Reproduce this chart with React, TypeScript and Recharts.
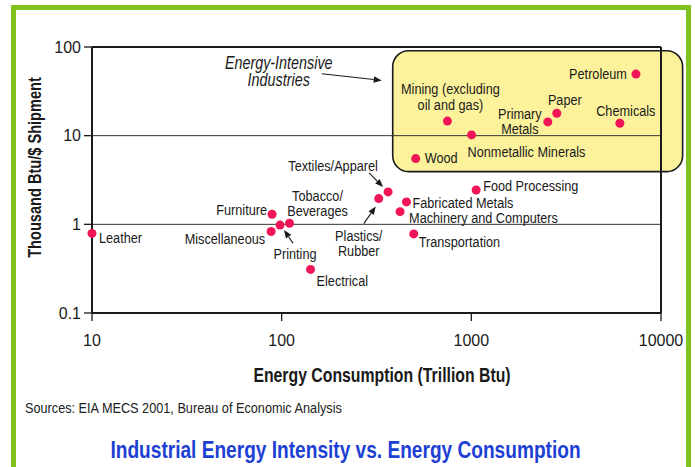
import React from 'react';
import { ScatterChart, Scatter, XAxis, YAxis, ReferenceLine, ReferenceArea } from 'recharts';

const industries = [
  'Leather', 'Furniture', 'Miscellaneous', 'Printing', 'Tobacco/Beverages', 'Electrical',
  'Textiles/Apparel', 'Plastics/Rubber', 'Fabricated Metals', 'Machinery and Computers',
  'Transportation', 'Food Processing', 'Wood', 'Mining (excluding oil and gas)',
  'Nonmetallic Minerals', 'Primary Metals', 'Paper', 'Chemicals', 'Petroleum',
];
const consumption = [10, 89, 88, 98, 110, 142, 364, 325, 455, 421, 497, 1060, 509, 748, 1003, 2531, 2823, 6067, 7378];
const intensity = [0.79, 1.3, 0.83, 0.98, 1.03, 0.31, 2.32, 1.95, 1.79, 1.39, 0.78, 2.44, 5.51, 14.6, 10.2, 14.3, 17.9, 13.8, 49.5];
const xTicks = [10, 100, 1000, 10000];
const yTicks = [0.1, 1, 10, 100];
const intensiveBoxX = [385, 13000];
const intensiveBoxY = [3.93, 90.8];
const annotationLines = ['Energy-Intensive', 'Industries'];
const xTitle = 'Energy Consumption (Trillion Btu)';
const yTitle = 'Thousand Btu/$ Shipment';
const sourceText = 'Sources: EIA MECS 2001, Bureau of Economic Analysis';
const chartTitle = 'Industrial Energy Intensity vs. Energy Consumption';

const data = industries.map((name, i) => ({ name, x: consumption[i], y: intensity[i] }));

const REG = "'Liberation Sans', Arimo, Arial, Helvetica, sans-serif";
const NARROW_SCALE = 0.82;
const DOT = '#ef1556';
const INK = '#1a1a1a';

type Anchor = 'start' | 'middle' | 'end';

const NText = (p: {
  x: number; y: number; anchor?: Anchor; size: number; weight?: string; italic?: boolean;
  fill?: string; rotate?: number; children: React.ReactNode; dy?: string;
}) => (
  <text
    transform={`translate(${p.x},${p.y})${p.rotate ? ` rotate(${p.rotate})` : ''} scale(${NARROW_SCALE},1)`}
    x={0} y={0} dy={p.dy} textAnchor={p.anchor || 'start'} fontFamily={REG} fontSize={p.size}
    fontWeight={p.weight || 'normal'} fontStyle={p.italic ? 'italic' : 'normal'} fill={p.fill || INK}
  >{p.children}</text>
);

type Layout = { lines: string[]; dx: number; dy: number; anchor: Anchor; lh?: number; arrow?: [number, number, number, number] };
const labelLayout: Record<string, Layout> = {
  'Leather': { lines: ['Leather'], dx: 7, dy: 4, anchor: 'start' },
  'Furniture': { lines: ['Furniture'], dx: -5, dy: -5, anchor: 'end' },
  'Miscellaneous': { lines: ['Miscellaneous'], dx: -6, dy: 7, anchor: 'end' },
  'Printing': { lines: ['Printing'], dx: 15, dy: 28, anchor: 'middle', arrow: [13, 18, 4, 5] },
  'Tobacco/Beverages': { lines: ['Tobacco/', 'Beverages'], dx: 28, dy: -28, anchor: 'middle' },
  'Electrical': { lines: ['Electrical'], dx: 6, dy: 11, anchor: 'start' },
  'Textiles/Apparel': { lines: ['Textiles/Apparel'], dx: -55, dy: -26, anchor: 'middle', arrow: [-19, -19, -5, -5] },
  'Plastics/Rubber': { lines: ['Plastics/', 'Rubber'], dx: -20, dy: 37, anchor: 'middle', arrow: [-15, 25, -3, 8] },
  'Fabricated Metals': { lines: ['Fabricated Metals'], dx: 6, dy: 1, anchor: 'start' },
  'Machinery and Computers': { lines: ['Machinery and Computers'], dx: 9, dy: 6, anchor: 'start' },
  'Transportation': { lines: ['Transportation'], dx: 5, dy: 8, anchor: 'start' },
  'Food Processing': { lines: ['Food Processing'], dx: 7, dy: -4, anchor: 'start' },
  'Wood': { lines: ['Wood'], dx: 9, dy: -1, anchor: 'start' },
  'Mining (excluding oil and gas)': { lines: ['Mining (excluding', 'oil and gas)'], dx: 3, dy: -33, anchor: 'middle', lh: 16 },
  'Nonmetallic Minerals': { lines: ['Nonmetallic Minerals'], dx: -4, dy: 17, anchor: 'start' },
  'Primary Metals': { lines: ['Primary', 'Metals'], dx: -28, dy: -8, anchor: 'middle', lh: 14.5 },
  'Paper': { lines: ['Paper'], dx: 8, dy: -14, anchor: 'middle' },
  'Chemicals': { lines: ['Chemicals'], dx: 6, dy: -13, anchor: 'middle' },
  'Petroleum': { lines: ['Petroleum'], dx: -9, dy: -1, anchor: 'end' },
};

const Arrow = ({ x1, y1, x2, y2 }: { x1: number; y1: number; x2: number; y2: number }) => {
  const ang = Math.atan2(y2 - y1, x2 - x1);
  const len = 8;
  const w = 3.2;
  const bx = x2 - len * Math.cos(ang);
  const by = y2 - len * Math.sin(ang);
  const px = -Math.sin(ang) * w;
  const py = Math.cos(ang) * w;
  return (
    <g>
      <line x1={x1} y1={y1} x2={bx} y2={by} stroke={INK} strokeWidth={1.1} />
      <polygon points={`${x2},${y2} ${bx + px},${by + py} ${bx - px},${by - py}`} fill={INK} />
    </g>
  );
};

const DotWithLabel = (props: any) => {
  const { cx, cy, payload } = props;
  const L = labelLayout[payload.name];
  return (
    <g>
      <circle cx={cx} cy={cy} r={4.5} fill={DOT} />
      {L && L.lines.map((t, i) => (
        <NText key={i} x={cx + L.dx} y={cy + L.dy + i * (L.lh || 15)} dy="0.35em" anchor={L.anchor} size={15.5}>{t}</NText>
      ))}
      {L && L.arrow && <Arrow x1={cx + L.arrow[0]} y1={cy + L.arrow[1]} x2={cx + L.arrow[2]} y2={cy + L.arrow[3]} />}
    </g>
  );
};

const BoxShape = (props: any) => {
  const { x, y, width, height } = props;
  return (
    <g>
      <rect x={x} y={y} width={width} height={height} rx={16} ry={16} fill="#fdf29c" stroke={INK} strokeWidth={1.6} />
      {annotationLines.map((t, i) => (
        <NText key={i} x={x - 114} y={y + 11.7 + i * 17.3} dy="0.35em" anchor="middle" size={17.5} italic>{t}</NText>
      ))}
      <Arrow x1={x - 71} y1={y + 23} x2={x - 11} y2={y + 29.7} />
    </g>
  );
};

export default function App() {
  return (
    <div style={{ position: 'fixed', left: 0, top: 0, width: 695, height: 467, background: '#fff', overflow: 'hidden' }}>
      <ScatterChart width={695} height={467} margin={{ top: 47, right: 34, bottom: 124, left: 0 }}>
        <XAxis type="number" dataKey="x" scale="log" domain={[10, 10000]} ticks={xTicks} interval={0}
          height={30} tickSize={8} tickMargin={14}
          axisLine={{ stroke: INK, strokeWidth: 2 }} tickLine={{ stroke: INK, strokeWidth: 1.3 }}
          tick={{ fill: INK, fontSize: 16, fontFamily: REG }} />
        <YAxis type="number" dataKey="y" scale="log" domain={[0.1, 100]} ticks={yTicks} interval={0}
          width={92} tickSize={8} tickMargin={3}
          tickFormatter={(v: number) => String(v)}
          axisLine={{ stroke: INK, strokeWidth: 2 }} tickLine={{ stroke: INK, strokeWidth: 1.3 }}
          tick={{ fill: INK, fontSize: 16, fontFamily: REG }} />
        <ReferenceArea x1={intensiveBoxX[0]} x2={intensiveBoxX[1]} y1={intensiveBoxY[0]} y2={intensiveBoxY[1]}
          ifOverflow="visible" shape={<BoxShape />} />
        <ReferenceLine y={10} stroke="#333" strokeWidth={1} />
        <ReferenceLine y={1} stroke="#333" strokeWidth={1} />
        <ReferenceLine y={100} stroke={INK} strokeWidth={2} />
        <ReferenceLine x={10000} stroke={INK} strokeWidth={2} />
        <Scatter data={data} isAnimationActive={false} shape={<DotWithLabel />} />
      </ScatterChart>
      <svg width={695} height={467} style={{ position: 'absolute', left: 0, top: 0, pointerEvents: 'none' }}>
        <path d="M13.5,480 V7.5 H688.5 V480" fill="none" stroke="#80c31c" strokeWidth={5} />
        <NText x={35} y={167.5} dy="0.35em" rotate={-90} anchor="middle" weight="bold" size={17.8}>{yTitle}</NText>
        <NText x={382} y={381.7} anchor="middle" weight="bold" size={19.3}>{xTitle}</NText>
        <NText x={25} y={413.3} size={15.5} fill="#222">{sourceText}</NText>
        <NText x={345.5} y={458.3} anchor="middle" weight="bold" size={23.3} fill="#1d3fd3">{chartTitle}</NText>
      </svg>
    </div>
  );
}
